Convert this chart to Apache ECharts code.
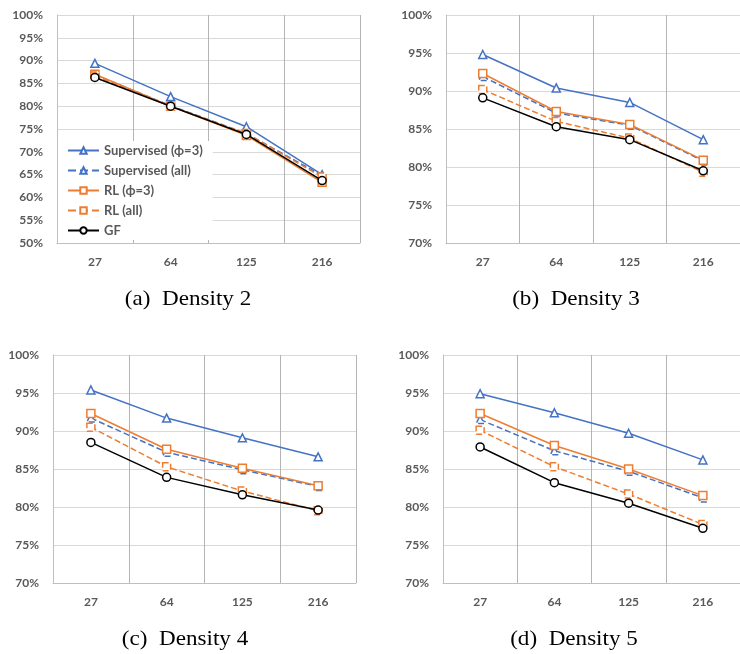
<!DOCTYPE html>
<html>
<head>
<meta charset="utf-8">
<script src="https://cdn.jsdelivr.net/npm/echarts@6/dist/echarts.min.js"></script>
<style>
  html, body { margin: 0; padding: 0; background: #ffffff; }
  #chart { width: 740px; height: 654px; }
</style>
</head>
<body>
<div id="chart"></div>
<script>
// Problem sizes on the x axis
const categories = ['27', '64', '125', '216'];

// Series names
const seriesNames = ['Supervised (\u03d5=3)', 'Supervised (all)', 'RL (\u03d5=3)', 'RL (all)', 'GF'];

// Density 2 (accuracy, %)
const d2SupervisedPhi3 = [89.4, 82.1, 75.5, 65.0];
const d2SupervisedAll  = [86.9, 80.1, 74.0, 64.8];
const d2RLPhi3         = [87.0, 80.0, 73.6, 63.3];
const d2RLAll          = [86.6, 80.0, 74.0, 64.5];
const d2GF             = [86.3, 80.0, 73.8, 63.7];

// Density 3
const d3SupervisedPhi3 = [94.8, 90.4, 88.5, 83.6];
const d3SupervisedAll  = [91.9, 87.1, 85.5, 80.8];
const d3RLPhi3         = [92.3, 87.3, 85.6, 80.9];
const d3RLAll          = [90.2, 86.0, 83.8, 79.3];
const d3GF             = [89.1, 85.3, 83.6, 79.5];

// Density 4
const d4SupervisedPhi3 = [95.4, 91.7, 89.1, 86.6];
const d4SupervisedAll  = [91.7, 87.2, 84.9, 82.7];
const d4RLPhi3         = [92.3, 87.6, 85.1, 82.8];
const d4RLAll          = [90.5, 85.3, 82.1, 79.5];
const d4GF             = [88.5, 83.9, 81.6, 79.6];

// Density 5
const d5SupervisedPhi3 = [94.9, 92.4, 89.7, 86.2];
const d5SupervisedAll  = [91.5, 87.4, 84.7, 81.2];
const d5RLPhi3         = [92.3, 88.1, 85.0, 81.5];
const d5RLAll          = [90.1, 85.3, 81.7, 77.7];
const d5GF             = [87.9, 83.2, 80.5, 77.2];

// Y-axis ranges per panel
const yMins = [50, 70, 70, 70];
const yMax = 100;
const yStep = 5;

// Panel captions
const captions = ['(a)  Density 2', '(b)  Density 3', '(c)  Density 4', '(d)  Density 5'];

const panelData = [
  [d2SupervisedPhi3, d2SupervisedAll, d2RLPhi3, d2RLAll, d2GF],
  [d3SupervisedPhi3, d3SupervisedAll, d3RLPhi3, d3RLAll, d3GF],
  [d4SupervisedPhi3, d4SupervisedAll, d4RLPhi3, d4RLAll, d4GF],
  [d5SupervisedPhi3, d5SupervisedAll, d5RLPhi3, d5RLAll, d5GF]
];

const BLUE = '#4472c4';
const ORANGE = '#ed7d31';
const BLACK = '#000000';
const TEXT = '#595959';
const FONT = 'Lato, "Open Sans", sans-serif';

const seriesStyle = [
  { color: BLUE,   symbol: 'triangle', dash: 'solid',  size: 8 },
  { color: BLUE,   symbol: 'triangle', dash: 'dashed', size: 8 },
  { color: ORANGE, symbol: 'rect',     dash: 'solid',  size: 8 },
  { color: ORANGE, symbol: 'rect',     dash: 'dashed', size: 8 },
  { color: BLACK,  symbol: 'circle',   dash: 'solid',  size: 8 }
];

// Plot rectangles
const grids = [
  { left: 57,  top: 15,  width: 303, height: 228 },
  { left: 446, top: 15,  width: 303, height: 228 },
  { left: 53,  top: 355, width: 303, height: 228 },
  { left: 443, top: 355, width: 303, height: 228 }
];

// Caption centres
const captionPos = [
  { x: 188, y: 299 },
  { x: 576, y: 299 },
  { x: 185, y: 639 },
  { x: 574, y: 639 }
];

const xAxes = grids.map((g, i) => ({
  type: 'category',
  gridIndex: i,
  data: categories,
  boundaryGap: true,
  axisLine: { show: true, lineStyle: { color: '#bfbfbf', width: 1 } },
  axisTick: { show: false },
  axisLabel: { color: TEXT, fontFamily: FONT, fontWeight: 'bold', fontSize: 12, margin: 13 },
  splitLine: { show: true, lineStyle: { color: '#b4b4b4', width: 1 } }
}));

const yAxes = grids.map((g, i) => ({
  type: 'value',
  gridIndex: i,
  min: yMins[i],
  max: yMax,
  interval: yStep,
  axisLine: { show: true, lineStyle: { color: '#bfbfbf', width: 1 } },
  axisTick: { show: false },
  axisLabel: { color: TEXT, fontFamily: FONT, fontWeight: 'bold', fontSize: 12, margin: 14, formatter: '{value}%' },
  splitLine: { show: true, lineStyle: { color: '#d9d9d9', width: 1 } }
}));

const series = [];
panelData.forEach((panel, p) => {
  panel.forEach((values, s) => {
    const st = seriesStyle[s];
    series.push({
      name: seriesNames[s],
      type: 'line',
      xAxisIndex: p,
      yAxisIndex: p,
      data: values,
      symbol: st.symbol,
      symbolSize: st.size,
      showAllSymbol: true,
      lineStyle: { color: st.color, width: 1.5, type: st.dash },
      itemStyle: { color: '#ffffff', borderColor: st.color, borderWidth: 1.5, borderType: st.dash },
      emphasis: { disabled: true },
      animation: false,
      z: 2 + s
    });
  });
});

// Captions under each panel (Times-style, slightly widened)
const captionGraphics = captions.map((c, i) => ({
  type: 'text',
  x: captionPos[i].x,
  y: captionPos[i].y,
  scaleX: 1.1,
  silent: true,
  style: {
    text: c,
    align: 'center',
    verticalAlign: 'middle',
    fill: '#000000',
    font: '21px "Liberation Serif", "Times New Roman", serif'
  }
}));

const chart = echarts.init(document.getElementById('chart'), null, { renderer: 'canvas' });
chart.setOption({
  backgroundColor: '#ffffff',
  animation: false,
  graphic: captionGraphics,
  grid: grids,
  xAxis: xAxes,
  yAxis: yAxes,
  legend: {
    data: seriesNames,
    orient: 'vertical',
    left: 58,
    top: 141,
    padding: [3, 10, 3, 9],
    itemGap: 7,
    itemWidth: 31,
    itemHeight: 8,
    backgroundColor: '#ffffff',
    z: 10,
    textStyle: { color: TEXT, fontFamily: FONT, fontWeight: 'bold', fontSize: 13 }
  },
  series: series
});
</script>
</body>
</html>
